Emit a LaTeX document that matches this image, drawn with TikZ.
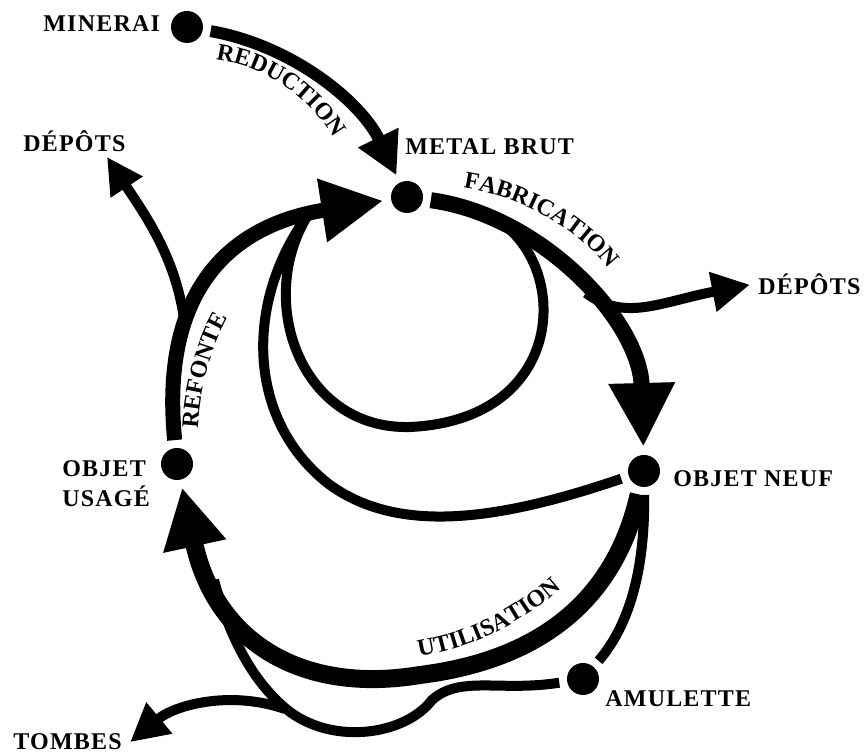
\documentclass[tikz,border=0pt]{standalone}
\usepackage{fontspec}
\setmainfont{Liberation Serif}[LetterSpace=5]
\usepackage{tikz}
\usetikzlibrary{arrows.meta,positioning,decorations.text}
\newcommand{\lblfont}{\bfseries\fontsize{12}{15}\selectfont}

\begin{document}
\begin{tikzpicture}[x=0.5pt,y=-0.5pt,
  dot/.style={circle,fill=black,inner sep=0pt,minimum size=16pt,outer sep=4pt},
  lbl/.style={font=\lblfont,inner sep=4pt,anchor=base west},
  thinflow/.style={line width=5pt},
  curvetext/.style={decorate,decoration={text along path,text align=center,text={|\lblfont|#1}}}]
  \useasboundingbox (0,0) rectangle (864,753);

  % stations
  \node[dot] (minerai) at (187,27) {};
  \node[dot] (metal) at (407,197) {};
  \node[dot] (neuf) at (644,471) {};
  \node[dot] (usage) at (177,464) {};
  \node[dot] (amulette) at (583,679) {};

  \node[lbl] (mineraiL) at (35,32) {MINERAI};
  \node[lbl] (metalL) at (397,155) {METAL BRUT};
  \node[lbl] (depL) at (15,152) {DÉPÔTS};
  \node[lbl] (depR) at (750,295) {DÉPÔTS};
  \node[lbl] (neufL) at (665,487) {OBJET NEUF};
  \node[lbl,align=left] (usageL) at (54,507) {OBJET\\USAGÉ};
  \node[lbl] (amuletteL) at (597,707) {AMULETTE};
  \node[lbl] (tombes) at (5,750) {TOMBES};

  % branch points
  \coordinate (fabsplit) at (507,227);
  \coordinate (depsplit) at (586,293);
  \coordinate (refsplit) at (185,327);
  \coordinate (mrg) at (308,215);
  \coordinate (utilmrg) at (214,580);
  \coordinate (tomsplit) at (285,709);
  \coordinate (tipL) at (107,157);

  % main cycle
  \draw[line width=6pt,-{Triangle[length=21pt,width=21pt]}]
    (minerai) .. controls (290,45) and (360,100) .. (metal);
  \draw[line width=8pt,-{Triangle[length=32pt,width=31pt]}]
    (metal) .. controls (540,215) and (640,320) .. (neuf);
  \draw[line width=9pt,-{Triangle[length=30pt,width=30pt]}]
    (neuf) .. controls (615,600) and (540,660) .. (420,675)
    .. controls (300,695) and (215,640) .. (usage);
  \draw[line width=7.5pt,-{Triangle[length=31pt,width=30pt]}]
    (usage) .. controls (160,290) and (230,225) .. (metal);

  % side flows
  \draw[thinflow,-{Triangle[length=19pt,width=19pt]}]
    (depsplit) .. controls (625,322) and (660,302) .. (depR.west);
  \draw[thinflow,-{Triangle[length=18pt,width=18pt]}]
    (refsplit) .. controls (178,260) and (145,215) .. (tipL);
  \draw[thinflow] (fabsplit) .. controls (570,280) and (560,420) .. (410,427)
    .. controls (300,430) and (255,300) .. (mrg);
  \draw[thinflow] (neuf) .. controls (500,520) and (400,535) .. (330,485)
    .. controls (245,420) and (245,300) .. (mrg);
  \draw[thinflow] (neuf) .. controls (645,580) and (625,630) .. (amulette);
  \draw[thinflow] (amulette) .. controls (500,692) and (460,675) .. (432,700)
    .. controls (405,735) and (335,745) .. (290,712)
    .. controls (255,685) and (230,640) .. (utilmrg);
  \draw[thinflow,-{Triangle[length=19pt,width=19pt]}]
    (tomsplit) .. controls (230,690) and (175,705) .. (tombes.east);

  % flow names
  \path[curvetext=REDUCTION] (216,60) .. controls (260,66) and (305,90) .. (334,138);
  \path[curvetext=FABRICATION] (465,188) .. controls (510,195) and (570,220) .. (608,268);
  \path[curvetext=UTILISATION] (416,657) .. controls (466,649) and (516,629) .. (564,586);
  \path[curvetext=REFONTE] (198,428) .. controls (200,390) and (210,350) .. (228,318);
\end{tikzpicture}
\end{document}
